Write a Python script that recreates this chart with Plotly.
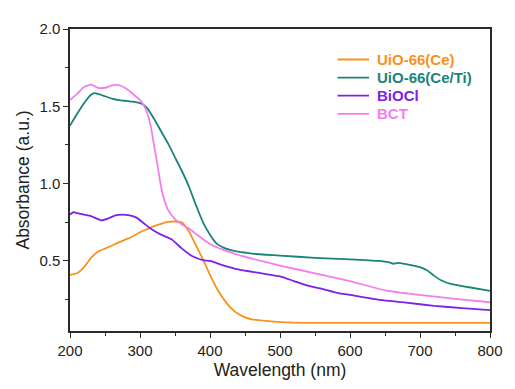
import plotly.graph_objects as go

# Wavelength (nm) and absorbance
ce_x = [200, 210, 220, 230, 240, 250, 260, 270, 280, 290, 300, 310, 320, 330, 340, 350,
        360, 370, 380, 390, 400, 410, 420, 430, 440, 450, 460, 480, 500, 550, 600, 700, 800]
ce_y = [0.41, 0.42, 0.46, 0.52, 0.56, 0.58, 0.60, 0.62, 0.64, 0.66, 0.685, 0.705, 0.725, 0.74,
        0.752, 0.755, 0.748, 0.69, 0.60, 0.51, 0.41, 0.32, 0.25, 0.195, 0.158, 0.135, 0.122,
        0.112, 0.105, 0.10, 0.10, 0.10, 0.10]

ceti_x = [200, 210, 220, 230, 235, 240, 250, 260, 270, 280, 290, 300, 305, 310, 320, 330, 340,
          350, 360, 370, 380, 390, 400, 410, 420, 430, 440, 460, 480, 500, 550, 600, 640, 655,
          662, 668, 680, 700, 710, 720, 730, 745, 770, 800]
ceti_y = [1.375, 1.45, 1.52, 1.575, 1.585, 1.58, 1.565, 1.55, 1.54, 1.535, 1.53, 1.52, 1.51,
          1.49, 1.42, 1.34, 1.26, 1.17, 1.08, 0.98, 0.86, 0.75, 0.67, 0.61, 0.585, 0.57, 0.56,
          0.548, 0.54, 0.535, 0.52, 0.51, 0.50, 0.492, 0.482, 0.488, 0.48, 0.46, 0.44, 0.405,
          0.375, 0.35, 0.33, 0.306]

biocl_x = [200, 205, 210, 220, 230, 240, 245, 255, 265, 275, 285, 295, 305, 315, 330, 345,
           360, 375, 390, 400, 420, 440, 460, 480, 500, 520, 540, 560, 580, 600, 640, 680,
           720, 760, 800]
biocl_y = [0.80, 0.815, 0.81, 0.80, 0.79, 0.77, 0.762, 0.775, 0.795, 0.80, 0.795, 0.78, 0.745,
           0.71, 0.67, 0.64, 0.58, 0.53, 0.505, 0.50, 0.47, 0.445, 0.43, 0.415, 0.40, 0.37,
           0.34, 0.32, 0.295, 0.28, 0.25, 0.23, 0.21, 0.195, 0.182]

bct_x = [200, 210, 220, 230, 240, 250, 260, 270, 280, 290, 300, 305, 310, 315, 320, 325, 330,
         335, 340, 350, 360, 370, 380, 390, 400, 420, 440, 460, 500, 550, 600, 650, 700, 750, 800]
bct_y = [1.54, 1.58, 1.625, 1.64, 1.62, 1.62, 1.635, 1.637, 1.615, 1.58, 1.54, 1.51, 1.46,
         1.38, 1.25, 1.12, 0.98, 0.89, 0.83, 0.77, 0.735, 0.71, 0.675, 0.64, 0.61, 0.57, 0.54,
         0.515, 0.47, 0.42, 0.37, 0.31, 0.28, 0.255, 0.233]

series_names = ["UiO-66(Ce)", "UiO-66(Ce/Ti)", "BiOCl", "BCT"]
series_colors = ["#F7921E", "#1A8479", "#7C22E4", "#F47EF0"]
series_x = [ce_x, ceti_x, biocl_x, bct_x]
series_y = [ce_y, ceti_y, biocl_y, bct_y]

x_ticks = [200, 300, 400, 500, 600, 700, 800]
y_ticks = [0.5, 1.0, 1.5, 2.0]

fig = go.Figure()
for name, color, xs, ys in zip(series_names, series_colors, series_x, series_y):
    fig.add_trace(go.Scatter(
        x=xs, y=ys, mode="lines", name=name,
        line=dict(color=color, width=1.8, shape="spline", smoothing=0.5),
    ))

axis_common = dict(
    showline=True, linecolor="#2a2a2a", linewidth=1.5, mirror=True,
    ticks="outside", ticklen=5, tickwidth=1.2, tickcolor="#2a2a2a",
    showgrid=False, zeroline=False,
    tickfont=dict(family="Liberation Sans, Arial", size=15, color="#222222"),
)

# the page body adds an 8px offset, so the figure is sized to fit the 515x389 window
fig.update_layout(
    width=507, height=381,
    margin=dict(l=62, r=18, t=12, b=52),
    paper_bgcolor="white", plot_bgcolor="white",
    font=dict(family="Liberation Sans, Arial", color="#222222"),
    showlegend=False,
    xaxis=dict(
        range=[200, 800], tickvals=x_ticks,
        minor=dict(ticks="outside", ticklen=3, dtick=50, tick0=200, tickcolor="#2a2a2a"),
        title=dict(text="Wavelength (nm)", font=dict(size=17.5), standoff=6),
        **axis_common,
    ),
    yaxis=dict(
        range=[0.047, 2.0], tickvals=y_ticks, tickformat=".1f",
        minor=dict(ticks="outside", ticklen=3, dtick=0.25, tick0=0.25, tickcolor="#2a2a2a"),
        title=dict(text="Absorbance (a.u.)", font=dict(size=17.5), standoff=5),
        **axis_common,
    ),
)

# Custom legend built from the series lists (line sample + coloured bold label)
for i, (name, color) in enumerate(zip(series_names, series_colors)):
    yp = 52 + i * 19
    fig.add_shape(type="line", xref="paper", yref="paper",
                  x0=(342 - 70) / 427, x1=(374 - 70) / 427,
                  y0=1 - (yp - 20) / 317, y1=1 - (yp - 20) / 317,
                  line=dict(color=color, width=1.8))
    fig.add_annotation(xref="paper", yref="paper",
                       x=(380 - 70) / 427, y=1 - (yp - 20) / 317,
                       text="<b>" + name + "</b>", showarrow=False,
                       xanchor="left", yanchor="middle",
                       font=dict(family="Liberation Sans, Arial", size=15, color=color))

fig.write_html("out.html")
